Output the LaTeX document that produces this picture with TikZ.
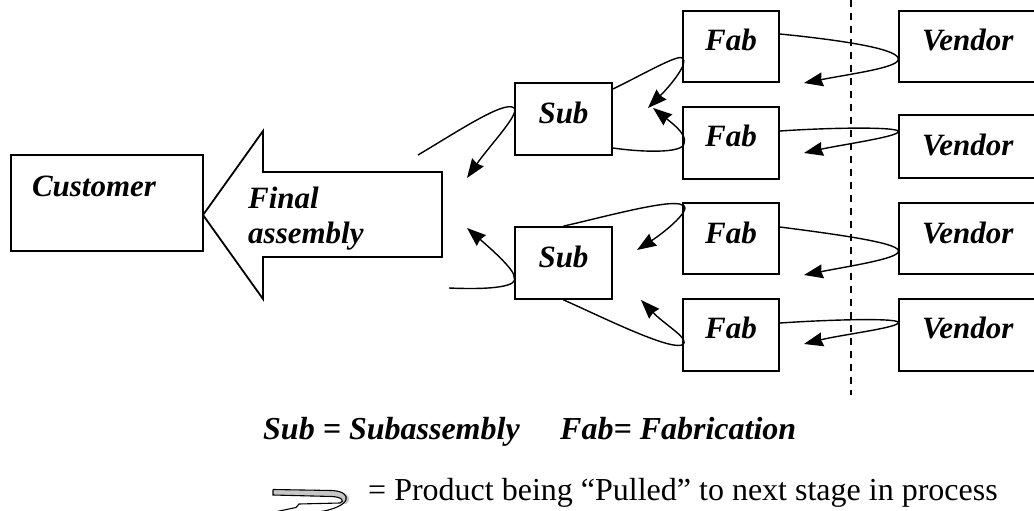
\documentclass[tikz,border=0pt]{standalone}
\usepackage{fontspec}
\setmainfont{Liberation Serif}
\usetikzlibrary{arrows.meta}
\newcommand\boxfont{\fontsize{31}{35}\selectfont\bfseries\itshape}
\newcommand\keyfont{\fontsize{32}{36}\selectfont\bfseries\itshape}
\newcommand\plainfont{\fontsize{32}{36}\selectfont}
\begin{document}
\begin{tikzpicture}[x=1pt,y=-1pt,
  box/.style={draw, line width=1.8pt, inner sep=0pt, font=\boxfont},
  fabbox/.style={box, minimum width=96pt},
  vendbox/.style={box, text width=95pt, inner xsep=23pt, align=left},
  pull/.style={line width=1.4pt, -{Stealth[length=19pt,width=14pt,inset=1.5pt]}},
  divider/.style={line width=1.6pt, dash pattern=on 7pt off 6pt},
]
\useasboundingbox (0,0) rectangle (1034,511);
\clip (0,0) rectangle (1034,511);

% customer and the final assembly arrow
\node[box, text width=150pt, inner xsep=21pt, align=left, minimum height=96pt,
      text height=18pt, text depth=32pt] (cust) at (107,203) {Customer};
\draw[line width=1.8pt, line join=miter] (203,215) -- (263,131) -- (263,172) -- (442,172)
  -- (442,257) -- (263,257) -- (263,299) -- cycle;
\node[font=\boxfont, align=left, anchor=base west, inner sep=0pt] (fa) at (248,243) {Final\\assembly};

% subassembly cells
\node[box, minimum width=97pt, minimum height=72pt, text height=29pt, text depth=21pt] (sub1) at (563.5,119) {Sub};
\node[box, minimum width=97pt, minimum height=72pt, text height=29pt, text depth=21pt] (sub2) at (563.5,263) {Sub};

% fabrication cells
\node[fabbox, minimum height=71pt, text height=29.5pt, text depth=20.5pt] (f1) at (731,46.5) {Fab};
\node[fabbox, minimum height=72pt, text height=28pt, text depth=22pt] (f2) at (731,143) {Fab};
\node[fabbox, minimum height=71pt, text height=29.5pt, text depth=20.5pt] (f3) at (731,238.5) {Fab};
\node[fabbox, minimum height=72pt, text height=28pt, text depth=22pt] (f4) at (731,335) {Fab};

% vendors
\node[vendbox, minimum height=71pt, text height=29.5pt, text depth=20.5pt] (v1) at (969.5,46.5) {Vendor};
\node[vendbox, minimum height=63pt, text height=33.5pt, text depth=16.5pt] (v2) at (969.5,146.5) {Vendor};
\node[vendbox, minimum height=71pt, text height=29.5pt, text depth=20.5pt] (v3) at (969.5,238.5) {Vendor};
\node[vendbox, minimum height=72pt, text height=28pt, text depth=22pt] (v4) at (969.5,335) {Vendor};

% company boundary
\coordinate (dtop) at (851,0);
\coordinate (dbot) at (851,395);
\draw[divider] (dtop) -- (dbot);

% loose ends and arrow tips of the pull loops
\coordinate (a1) at (418,155);
\coordinate (a2) at (449,288);
\coordinate (ta1) at (467,178);
\coordinate (ta2) at (467,228);
\coordinate (tb1) at (648,108);
\coordinate (tb2) at (653,108);
\coordinate (tc1) at (637,250);
\coordinate (tc2) at (641,300);
\coordinate (tv1) at (804,83);
\coordinate (tv2) at (804,153);
\coordinate (tv3) at (804,275);
\coordinate (tv4) at (804,344);

% subassemblies pulled into final assembly
\draw[pull] (a1) .. controls (460,130) and (505,100) .. ([yshift=11pt]sub1.west)
  .. controls (520,114) and (490,145) .. (ta1);
\draw[pull] (a2) .. controls (495,290) and (519,286) .. ([yshift=-14pt]sub2.west)
  .. controls (515,270) and (490,248) .. (ta2);

% fabrication pulled into subassembly
\draw[pull] ([yshift=30pt]sub1.east) .. controls (640,76) and (678,54) .. ([yshift=-11.5pt]f1.west)
  .. controls (690,62) and (670,86) .. (tb1);
\draw[pull] ([yshift=-29pt]sub1.east) .. controls (640,152) and (684,154) .. ([xshift=2pt]f2.west)
  .. controls (688,134) and (668,120) .. (tb2);
\draw[pull] (sub2.north) .. controls (600,218) and (672,198) .. ([yshift=33.5pt]f3.west)
  .. controls (694,208) and (665,232) .. (tc1);
\draw[pull] (sub2.south) .. controls (600,316) and (668,350) .. ([yshift=-10pt]f4.west)
  .. controls (692,340) and (665,325) .. (tc2);

% vendor parts pulled into fabrication
\draw[pull] ([yshift=12.5pt]f1.east) .. controls (850,41) and (902,50) .. ([yshift=-13.5pt]v1.west)
  .. controls (896,68) and (850,74) .. (tv1);
\draw[pull] ([yshift=12pt]f2.east) .. controls (840,127) and (903,127) .. ([yshift=14.5pt]v2.west)
  .. controls (896,137) and (840,145) .. (tv2);
\draw[pull] ([yshift=11.5pt]f3.east) .. controls (850,236) and (903,244) .. ([yshift=-13.5pt]v3.west)
  .. controls (896,259) and (850,266) .. (tv3);
\draw[pull] ([yshift=12pt]f4.east) .. controls (840,319) and (903,318) .. ([yshift=12pt]v4.west)
  .. controls (896,328) and (840,335) .. (tv4);

% key
\node[font=\keyfont, anchor=base west, inner sep=0pt] (k1) at (263,439) {Sub = Subassembly};
\node[font=\keyfont, anchor=base west, inner sep=0pt] (k2) at (560,439) {Fab= Fabrication};
\node[font=\plainfont, anchor=base west, inner sep=0pt] (k3) at (368,500) {= Product being “Pulled” to next stage in process};

% key symbol: a curled pull arrow
\fill[gray!45] (273,489.5) -- (332,490.5) .. controls (350,491.5) and (352,500) .. (346,504)
  -- (340,503) .. controls (344,500) and (340,497) .. (332,496.5) -- (273,495) -- cycle;
\draw[line width=1.1pt, line join=miter] (273,489.5) -- (332,490.5) .. controls (353,491.5) and (353,507) .. (318,512);
\draw[line width=1.1pt, line join=miter] (273,489.5) -- (273,495) -- (332,496.5)
  .. controls (342,497) and (345,501) .. (340,503) -- (299,504) -- (296,507.5) -- (270,513);
\end{tikzpicture}
\end{document}
